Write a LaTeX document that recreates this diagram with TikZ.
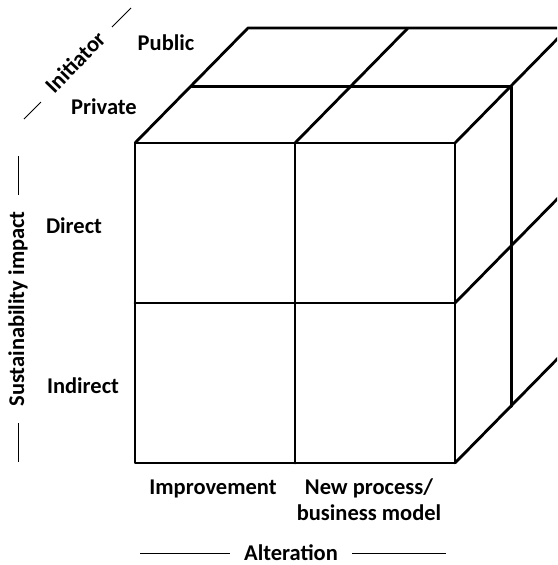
\documentclass[tikz,border=0pt]{standalone}
\usepackage{fontspec}
\setmainfont{Carlito}
\begin{document}
\begin{tikzpicture}[x=1pt,y=-1pt,
  cube/.style={line width=2.8pt,line cap=round,line join=round},
  guide/.style={line width=1pt},
  lbl/.style={font=\fontsize{22.5}{26}\selectfont\bfseries,inner sep=0pt}]
\useasboundingbox (0,0) rectangle (557,565);
\clip (0,0) rectangle (557,565);
% front face
\draw[cube] (135,143) rectangle (455,463);
\draw[cube] (295,143) -- (295,463);
\draw[cube] (135,303) -- (455,303);
% top face
\draw[cube] (135,143) -- (248,28) -- (600,28);
\draw[cube] (295,143) -- (408,28);
\draw[cube] (455,143) -- (568,28);
\draw[cube] (191.5,86.5) -- (511.5,86.5) -- (511.5,406.5);
% right face
\draw[cube] (455,303) -- (568,188);
\draw[cube] (455,463) -- (568,348);
% labels
\node[lbl] (public) at (166,43) {Public};
\node[lbl] (private) at (104,107) {Private};
\node[lbl] (direct) at (74,226) {Direct};
\node[lbl] (indirect) at (83,386) {Indirect};
\node[lbl] (improve) at (213,489) {Improvement};
\node[lbl,align=center] (newproc) at (369,500) {New process/\\business model};
\node[lbl] (alter) at (291,553) {Alteration};
\node[lbl,rotate=90] (sust) at (18,309) {Sustainability impact};
\node[lbl,rotate=46] (init) at (75,62) {Initiator};
% guide lines
\coordinate (a1) at (140,553); \coordinate (a2) at (230,553);
\coordinate (a3) at (352,553); \coordinate (a4) at (446,553);
\draw[guide] (a1) -- (a2); \draw[guide] (a3) -- (a4);
\coordinate (s1) at (18,156); \coordinate (s2) at (18,195);
\coordinate (s3) at (18,423); \coordinate (s4) at (18,462);
\draw[guide] (s1) -- (s2); \draw[guide] (s3) -- (s4);
\coordinate (i1) at (24,119); \coordinate (i2) at (41,102);
\coordinate (i3) at (112,27); \coordinate (i4) at (131,8);
\draw[guide] (i1) -- (i2); \draw[guide] (i3) -- (i4);
\end{tikzpicture}
\end{document}
